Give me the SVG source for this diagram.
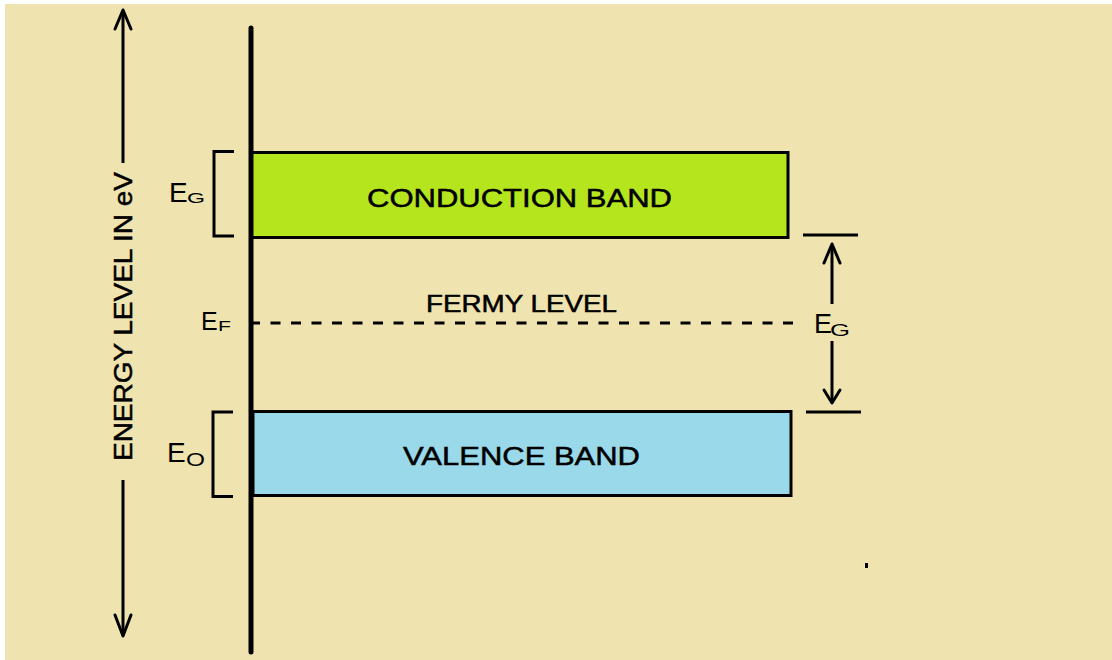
<svg xmlns="http://www.w3.org/2000/svg" width="1112" height="660" viewBox="0 0 1112 660">
<style>
text{font-family:"Liberation Sans",Arial,sans-serif;fill:#000}
.lb{stroke:#000;stroke-width:0.5}
.ln{stroke:#000;stroke-width:3;fill:none}
.ah{stroke:#000;stroke-width:3;fill:none;stroke-linecap:round;stroke-linejoin:round}
</style>
<rect x="0" y="0" width="1112" height="660" fill="#ffffff"/>
<rect x="5" y="4" width="1107" height="656" fill="#efe4b0"/>
<g id="axis">
<line x1="123" y1="12" x2="123" y2="163" class="ln"/>
<polyline points="115,29 123,10 131,29" class="ah"/>
<line x1="123" y1="480" x2="123" y2="634" class="ln"/>
<polyline points="115,615 123,636 131,615" class="ah"/>
<text class="lb" transform="translate(132,316.5) rotate(-90)" font-size="26" text-anchor="middle" textLength="289" lengthAdjust="spacingAndGlyphs">ENERGY LEVEL IN eV</text>
</g>
<g id="conduction-band">
<rect x="251" y="152.5" width="537" height="85" fill="#b5e61d" stroke="#000" stroke-width="3"/>
<text class="lb" x="519.5" y="207" font-size="26" text-anchor="middle" textLength="305" lengthAdjust="spacingAndGlyphs">CONDUCTION BAND</text>
</g>
<g id="valence-band">
<rect x="253" y="411.5" width="538" height="84" fill="#99d9ea" stroke="#000" stroke-width="3"/>
<text class="lb" x="521.5" y="465" font-size="26" text-anchor="middle" textLength="237" lengthAdjust="spacingAndGlyphs">VALENCE BAND</text>
</g>
<g id="fermi-level">
<line x1="250" y1="323" x2="793" y2="323" stroke="#000" stroke-width="3" stroke-dasharray="10 10.5"/>
<text class="lb" x="521.5" y="312" font-size="23" text-anchor="middle" textLength="191" lengthAdjust="spacingAndGlyphs">FERMY LEVEL</text>
<text x="201" y="330" font-size="25">E</text>
<text x="218" y="331" font-size="15" textLength="13" lengthAdjust="spacingAndGlyphs">F</text>
</g>
<g id="bracket-eg">
<polyline points="234,151.5 214,151.5 214,236 234,236" class="ln"/>
<text x="169" y="202" font-size="28">E</text>
<text x="187" y="203" font-size="15" textLength="18" lengthAdjust="spacingAndGlyphs">G</text>
</g>
<g id="bracket-eo">
<polyline points="233,412 213,412 213,496.5 233,496.5" class="ln"/>
<text x="167" y="462" font-size="28">E</text>
<text x="186" y="466" font-size="18" textLength="19" lengthAdjust="spacingAndGlyphs">O</text>
</g>
<g id="gap-eg">
<line x1="803" y1="235" x2="858" y2="235" class="ln"/>
<line x1="806" y1="412" x2="861" y2="412" class="ln"/>
<text x="814" y="333" font-size="27">E</text>
<text x="830" y="336" font-size="17" textLength="20" lengthAdjust="spacingAndGlyphs">G</text>
</g>
<g id="connectors">
<line x1="251" y1="28" x2="251" y2="652" stroke="#000" stroke-width="5" stroke-linecap="round"/>
<line x1="832" y1="246" x2="832" y2="304" class="ln"/>
<polyline points="824,263 832,244 840,263" class="ah"/>
<line x1="832" y1="341" x2="832" y2="401" class="ln"/>
<polyline points="824,390 832,403 840,390" class="ah"/>
</g>
<rect x="865" y="563" width="3" height="5" fill="#000"/>
</svg>
